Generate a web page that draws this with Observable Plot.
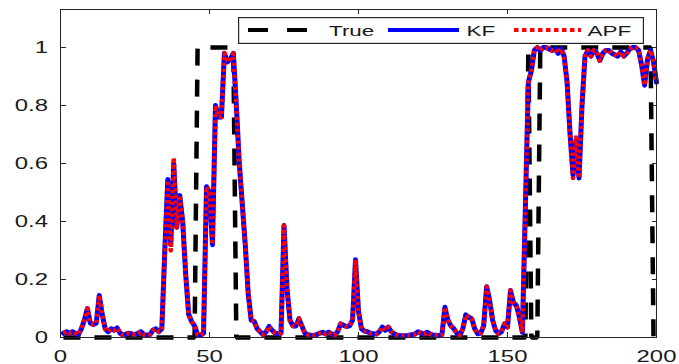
<!DOCTYPE html>
<html><head><meta charset="utf-8">
<script src="https://cdn.jsdelivr.net/npm/d3@7"></script>
<script src="https://cdn.jsdelivr.net/npm/@observablehq/plot@0.6"></script>
<style>
body{margin:0;background:#fff;}
#wrap{position:relative;width:679px;height:364px;overflow:hidden;background:#fff;}
#legend{position:absolute;left:238px;top:17px;}
</style></head><body><div id="wrap"></div>
<script>
// Time steps 1..200
const xTicks = [0, 50, 100, 150, 200];
const yTicks = [0, 0.2, 0.4, 0.6, 0.8, 1];
const seriesNames = ["True", "KF", "APF"];

const trueVals = [
0,0,0,0,0,0,0,0,0,0, 0,0,0,0,0,0,0,0,0,0, 0,0,0,0,0,0,0,0,0,0, 0,0,0,0,0,0,0,0,0,0,
0,0,0,0,0,1,1,1,1,1, 1,1,1,1,1,1,1,1,0,0, 0,0,0,0,0,0,0,0,0,0, 0,0,0,0,0,0,0,0,0,0,
0,0,0,0,0,0,0,0,0,0, 0,0,0,0,0,0,0,0,0,0, 0,0,0,0,0,0,0,0,0,0, 0,0,0,0,0,0,0,0,0,0,
0,0,0,0,0,0,0,0,0,0, 0,0,0,0,0,0,0,0,0,0, 0,0,0,0,0,0,0,0,0,0, 0,0,0,0,0,0,1,0,0,0,
1,1,1,1,1,1,1,1,1,1, 1,1,1,1,1,1,1,1,1,1, 1,1,1,1,1,1,1,1,1,1, 1,1,1,1,1,1,1,1,0,0
];

const kfVals = [
0.015,0.02,0.015,0.02,0.015,0.01,0.03,0.06,0.10,0.05,
0.045,0.05,0.145,0.08,0.03,0.02,0.03,0.025,0.033,0.015,
0.008,0.012,0.015,0.012,0.01,0.015,0.02,0.01,0.008,0.01,
0.025,0.03,0.02,0.03,0.3,0.545,0.32,0.6,0.38,0.49,
0.4,0.22,0.08,0.055,0.04,0.01,0.008,0.015,0.52,0.5,
0.32,0.8,0.76,0.76,0.98,0.95,0.96,0.98,0.8,0.6,
0.46,0.32,0.15,0.06,0.055,0.03,0.02,0.01,0.02,0.038,
0.025,0.015,0.012,0.015,0.386,0.17,0.06,0.04,0.04,0.065,
0.04,0.015,0.01,0.008,0.007,0.01,0.015,0.018,0.012,0.018,
0.012,0.008,0.02,0.047,0.042,0.038,0.04,0.06,0.268,0.09,
0.03,0.022,0.02,0.015,0.013,0.012,0.02,0.036,0.025,0.036,
0.02,0.013,0.008,0.006,0.006,0.006,0.008,0.01,0.012,0.02,
0.015,0.012,0.018,0.012,0.008,0.008,0.006,0.01,0.104,0.06,
0.04,0.03,0.015,0.007,0.03,0.078,0.07,0.065,0.03,0.013,
0.015,0.04,0.175,0.128,0.06,0.025,0.013,0.02,0.047,0.036,
0.162,0.12,0.11,0.07,0.018,0.45,0.88,0.92,0.99,1.0,
0.99,1.0,1.0,0.995,0.99,0.995,0.98,0.995,0.97,0.88,
0.7,0.56,0.68,0.55,0.8,0.97,0.99,0.97,0.99,0.98,
0.955,0.98,0.99,0.99,0.98,0.975,0.97,0.985,0.97,0.98,
0.995,1.0,1.0,0.99,0.94,0.87,0.96,0.99,0.95,0.88
];

const apfVals = [
0.015,0.02,0.015,0.02,0.015,0.01,0.03,0.06,0.10,0.05,
0.045,0.05,0.145,0.08,0.03,0.02,0.03,0.025,0.033,0.015,
0.008,0.012,0.015,0.012,0.01,0.015,0.02,0.01,0.008,0.01,
0.025,0.03,0.02,0.03,0.3,0.53,0.30,0.62,0.38,0.49,
0.4,0.22,0.08,0.055,0.04,0.01,0.008,0.015,0.52,0.5,
0.32,0.8,0.76,0.76,0.98,0.95,0.96,0.98,0.8,0.6,
0.46,0.32,0.15,0.06,0.055,0.03,0.02,0.01,0.02,0.038,
0.025,0.015,0.012,0.015,0.386,0.17,0.06,0.04,0.04,0.065,
0.04,0.015,0.01,0.008,0.007,0.01,0.015,0.018,0.012,0.018,
0.012,0.008,0.02,0.047,0.042,0.038,0.04,0.06,0.268,0.09,
0.03,0.022,0.02,0.015,0.013,0.012,0.02,0.036,0.025,0.036,
0.02,0.013,0.008,0.006,0.006,0.006,0.008,0.01,0.012,0.02,
0.015,0.012,0.018,0.012,0.008,0.008,0.006,0.01,0.104,0.06,
0.04,0.03,0.015,0.007,0.03,0.078,0.07,0.065,0.03,0.013,
0.015,0.04,0.175,0.128,0.06,0.025,0.013,0.02,0.047,0.036,
0.162,0.12,0.11,0.07,0.018,0.45,0.88,0.92,0.99,1.0,
0.99,1.0,1.0,0.995,0.99,0.995,0.98,0.995,0.97,0.88,
0.7,0.55,0.69,0.55,0.8,0.97,0.99,0.97,0.99,0.98,
0.955,0.98,0.99,0.99,0.98,0.975,0.97,0.985,0.97,0.98,
0.995,1.0,1.0,0.99,0.94,0.87,0.96,0.99,0.95,0.88
];

const toRows = vals => vals.map((v, i) => ({t: i + 1, v}));
const trueData = toRows(trueVals), kfData = toRows(kfVals), apfData = toRows(apfVals);

const INK = "#262626";
const plot = Plot.plot({
  width: 679, height: 364,
  marginLeft: 60, marginRight: 23, marginTop: 9, marginBottom: 27,
  x: {domain: [0, 200]},
  y: {domain: [0, 1.131]},
  style: {fontFamily: "'Liberation Sans', Arial, sans-serif", fontSize: "16.5px", color: INK, background: "white"},
  marks: [
    Plot.line(trueData, {x: "t", y: "v", stroke: "black", strokeWidth: 4.5, strokeDasharray: "17,14", strokeLinecap: "butt", strokeLinejoin: "miter"}),
    Plot.line(kfData, {x: "t", y: "v", stroke: "#0000ff", strokeWidth: 5}),
    Plot.line(apfData, {x: "t", y: "v", stroke: "#ff0000", strokeWidth: 4.5, strokeDasharray: "3,3", strokeLinecap: "butt"}),
    Plot.frame({stroke: INK, strokeWidth: 1}),
    Plot.axisX({anchor: "bottom", ticks: xTicks, tickSize: -5, tickPadding: 18, tickFormat: d => String(d), label: null, stroke: INK, fill: "#1a1a1a"}),
    Plot.axisX({anchor: "top", ticks: xTicks, tickSize: -4, tickFormat: () => "", label: null, stroke: INK}),
    Plot.axisY({anchor: "left", ticks: yTicks, tickSize: -6, tickPadding: 18.5, tickFormat: d => String(d), label: null, stroke: INK, fill: "#1a1a1a"}),
    Plot.axisY({anchor: "right", ticks: yTicks, tickSize: -5, tickFormat: () => "", label: null, stroke: INK})
  ]
});

// horizontal stretch of tick labels, as in the reference image
plot.querySelectorAll("text").forEach(el => {
  const tr = el.getAttribute("transform") || "";
  el.setAttribute("transform", tr + " scale(1.45,1)");
});

const wrap = document.getElementById("wrap");
wrap.appendChild(plot);

// Legend (inside plot, top right)
const ns = "http://www.w3.org/2000/svg";
const lg = document.createElementNS(ns, "svg");
lg.setAttribute("id", "legend");
lg.setAttribute("width", 406); lg.setAttribute("height", 27);
lg.innerHTML = `
<rect x="0.6" y="0.6" width="404.8" height="25.8" fill="white" stroke="${INK}" stroke-width="1.2"/>
<line x1="10" x2="69" y1="13" y2="13" stroke="black" stroke-width="4" stroke-dasharray="20,19"/>
<text transform="translate(91,18.5) scale(1.45,1)" font-family="'Liberation Sans', Arial, sans-serif" font-size="15.5" fill="#1a1a1a">${seriesNames[0]}</text>
<line x1="150" x2="221" y1="13" y2="13" stroke="#0000ff" stroke-width="4"/>
<text transform="translate(228.5,18.5) scale(1.45,1)" font-family="'Liberation Sans', Arial, sans-serif" font-size="15.5" fill="#1a1a1a">${seriesNames[1]}</text>
<line x1="276" x2="343" y1="13" y2="13" stroke="#ff0000" stroke-width="4" stroke-dasharray="4.5,3.5"/>
<text transform="translate(349.5,18.5) scale(1.45,1)" font-family="'Liberation Sans', Arial, sans-serif" font-size="15.5" fill="#1a1a1a">${seriesNames[2]}</text>
`;
wrap.appendChild(lg);
</script>
</body></html>
